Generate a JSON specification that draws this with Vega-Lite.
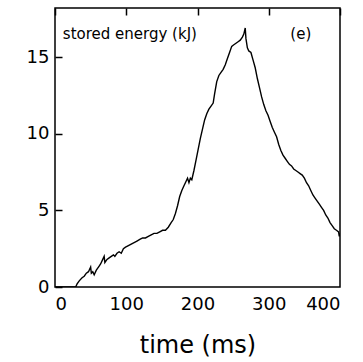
{
  "$schema": "https://vega.github.io/schema/vega-lite/v6.json",
  "autosize": "none",
  "width": 285,
  "height": 279,
  "padding": {"left": 55, "top": 8, "right": 23, "bottom": 75},
  "background": "white",
  "config": {
    "view": {"stroke": "black", "strokeWidth": 1.5},
    "axis": {"domain": false, "ticks": false,
      "grid": true, "gridColor": "black", "gridOpacity": 1, "gridWidth": 1.5, "gridDash": [7, 1000],
      "labelColor": "black", "labelFont": "DejaVu Sans", "labelFontSize": 18, "titleFont": "DejaVu Sans",
      "titleFontSize": 24, "titleFontWeight": "normal", "titleColor": "black"}
  },
  "datasets": {
    "energy": [
      {"t":0,"E":0},{"t":10,"E":0},{"t":20,"E":0},{"t":29,"E":0},{"t":31,"E":0.2},{"t":34,"E":0.4},
      {"t":38,"E":0.6},{"t":41,"E":0.7},{"t":44,"E":0.9},{"t":47,"E":1.0},{"t":50,"E":1.3},{"t":51,"E":0.9},
      {"t":53,"E":1.0},{"t":55,"E":0.8},{"t":58,"E":1.1},{"t":61,"E":1.3},{"t":64,"E":1.5},{"t":67,"E":1.8},
      {"t":69,"E":2.0},{"t":70,"E":1.6},{"t":73,"E":1.8},{"t":76,"E":1.9},{"t":79,"E":2.0},{"t":82,"E":2.1},
      {"t":84,"E":2.0},{"t":87,"E":2.2},{"t":90,"E":2.3},{"t":93,"E":2.2},{"t":96,"E":2.5},{"t":99,"E":2.6},
      {"t":103,"E":2.7},{"t":107,"E":2.8},{"t":111,"E":2.9},{"t":115,"E":3.0},{"t":119,"E":3.1},{"t":123,"E":3.2},
      {"t":127,"E":3.2},{"t":131,"E":3.3},{"t":135,"E":3.4},{"t":139,"E":3.5},{"t":143,"E":3.5},{"t":147,"E":3.6},
      {"t":151,"E":3.7},{"t":155,"E":3.7},{"t":159,"E":3.9},{"t":163,"E":4.2},{"t":166,"E":4.4},{"t":169,"E":4.8},
      {"t":172,"E":5.3},{"t":175,"E":5.9},{"t":178,"E":6.3},{"t":181,"E":6.6},{"t":184,"E":6.9},{"t":186,"E":7.1},
      {"t":188,"E":6.8},{"t":190,"E":7.1},{"t":192,"E":7.0},{"t":195,"E":7.6},{"t":198,"E":8.3},{"t":201,"E":9.0},
      {"t":204,"E":9.7},{"t":207,"E":10.3},{"t":210,"E":10.9},{"t":213,"E":11.3},{"t":216,"E":11.6},{"t":219,"E":11.8},
      {"t":222,"E":12.0},{"t":224,"E":12.6},{"t":227,"E":13.4},{"t":230,"E":13.8},{"t":233,"E":14.0},{"t":236,"E":14.2},
      {"t":239,"E":14.5},{"t":242,"E":14.9},{"t":245,"E":15.3},{"t":248,"E":15.7},{"t":251,"E":15.8},{"t":254,"E":15.9},
      {"t":257,"E":16.0},{"t":260,"E":16.1},{"t":263,"E":16.3},{"t":265,"E":16.5},{"t":267,"E":16.9},{"t":268,"E":16.2},
      {"t":270,"E":15.6},{"t":272,"E":15.4},{"t":275,"E":15.3},{"t":278,"E":14.8},{"t":281,"E":14.3},{"t":284,"E":13.6},
      {"t":287,"E":13.0},{"t":290,"E":12.4},{"t":293,"E":11.9},{"t":296,"E":11.5},{"t":299,"E":11.2},{"t":302,"E":10.8},
      {"t":305,"E":10.4},{"t":308,"E":10.1},{"t":311,"E":9.8},{"t":314,"E":9.3},{"t":317,"E":8.9},{"t":320,"E":8.6},
      {"t":323,"E":8.4},{"t":326,"E":8.2},{"t":329,"E":8.0},{"t":332,"E":7.9},{"t":335,"E":7.7},{"t":338,"E":7.6},
      {"t":341,"E":7.5},{"t":344,"E":7.4},{"t":347,"E":7.3},{"t":350,"E":7.1},{"t":353,"E":6.8},{"t":356,"E":6.6},
      {"t":359,"E":6.3},{"t":362,"E":6.0},{"t":365,"E":5.8},{"t":368,"E":5.6},{"t":371,"E":5.4},{"t":374,"E":5.2},
      {"t":377,"E":5.0},{"t":380,"E":4.7},{"t":383,"E":4.5},{"t":386,"E":4.2},{"t":389,"E":4.0},{"t":392,"E":3.8},
      {"t":395,"E":3.7},{"t":398,"E":3.6},{"t":399,"E":3.3},{"t":400,"E":3.5}
    ],
    "labels": [
      {"t": 11, "E": 16.2, "label": "stored energy (kJ)", "align": "left"},
      {"t": 345, "E": 16.2, "label": "(e)", "align": "center"}
    ]
  },
  "layer": [
    {
      "data": {"name": "energy"},
      "mark": {"type": "line", "color": "black", "strokeWidth": 1.4, "clip": true},
      "encoding": {
        "x": {"field": "t", "type": "quantitative", "scale": {"domain": [0, 400], "nice": false},
          "axis": {"orient": "bottom", "values": [0, 100, 200, 300, 400], "title": "time (ms)", "labelPadding": 8, "titlePadding": 20}},
        "y": {"field": "E", "type": "quantitative", "scale": {"domain": [0, 18.2], "nice": false},
          "axis": {"orient": "left", "values": [0, 5, 10, 15], "title": null, "labelPadding": 6}}
      }
    },
    {
      "data": {"name": "labels"},
      "transform": [{"filter": "datum.align == 'left'"}],
      "mark": {"type": "text", "align": "left", "baseline": "alphabetic", "font": "DejaVu Sans", "fontSize": 15, "color": "black"},
      "encoding": {
        "x": {"field": "t", "type": "quantitative", "axis": {"orient": "top", "values": [100, 200, 300], "labels": false, "title": null}},
        "y": {"field": "E", "type": "quantitative", "axis": {"orient": "right", "values": [5, 10, 15], "labels": false, "title": null}},
        "text": {"field": "label"}
      }
    },
    {
      "data": {"name": "labels"},
      "transform": [{"filter": "datum.align == 'center'"}],
      "mark": {"type": "text", "align": "center", "baseline": "alphabetic", "font": "DejaVu Sans", "fontSize": 15, "color": "black"},
      "encoding": {
        "x": {"field": "t", "type": "quantitative", "axis": null},
        "y": {"field": "E", "type": "quantitative", "axis": null},
        "text": {"field": "label"}
      }
    }
  ],
  "resolve": {"axis": {"x": "independent", "y": "independent"}}
}
